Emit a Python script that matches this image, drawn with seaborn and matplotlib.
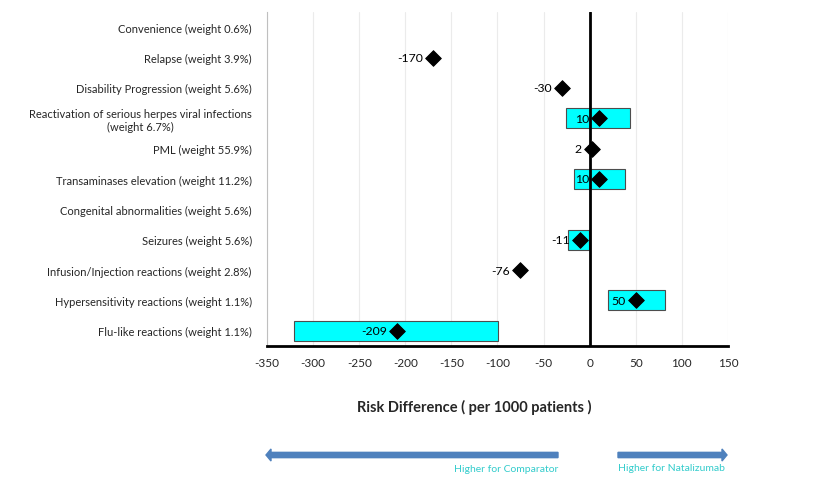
import numpy as np
import pandas as pd
import matplotlib
matplotlib.use("Agg")
import matplotlib.pyplot as plt
import seaborn as sns
from matplotlib.patches import FancyArrow

categories = [
    "Convenience (weight 0.6%)",
    "Relapse (weight 3.9%)",
    "Disability Progression (weight 5.6%)",
    "Reactivation of serious herpes viral infections\n(weight 6.7%)",
    "PML (weight 55.9%)",
    "Transaminases elevation (weight 11.2%)",
    "Congenital abnormalities (weight 5.6%)",
    "Seizures (weight 5.6%)",
    "Infusion/Injection reactions (weight 2.8%)",
    "Hypersensitivity reactions (weight 1.1%)",
    "Flu-like reactions (weight 1.1%)",
]
estimates = [np.nan, -170, -30, 10, 2, 10, np.nan, -11, -76, 50, -209]
ci_low = [np.nan, np.nan, np.nan, -26, np.nan, -17, np.nan, -23, np.nan, 20, -321]
ci_high = [np.nan, np.nan, np.nan, 44, np.nan, 38, np.nan, -1, np.nan, 82, -99]
x_ticks = [-350, -300, -250, -200, -150, -100, -50, 0, 50, 100, 150]

df = pd.DataFrame({"cat": categories, "est": estimates, "lo": ci_low, "hi": ci_high})
df["pos"] = np.arange(len(df))

sns.set_theme(style="white")
plt.rcParams["font.family"] = ["Lato", "DejaVu Sans"]

fig = plt.figure(figsize=(8.35, 4.81), dpi=100)
ax = fig.add_axes([0.3198, 0.2786, 0.552, 0.6944])

# grid
for t in x_ticks:
    ax.axvline(t, color="#ebebeb", lw=0.8, zorder=0)

# CI bars
ci = df.dropna(subset=["lo"])
ax.barh(ci["pos"], ci["hi"] - ci["lo"], left=ci["lo"], height=0.66,
        color="#00FFFF", edgecolor="#4d4d4d", linewidth=0.8, zorder=2)

ax.axvline(0, color="black", lw=2, zorder=3)

pts = df.dropna(subset=["est"])
sns.scatterplot(data=pts, x="est", y="pos", marker="D", s=64, color="black",
                edgecolor="black", ax=ax, zorder=4, legend=False)
for _, r in pts.iterrows():
    ax.annotate(f"{int(r['est'])}", (r["est"], r["pos"]), xytext=(-7, 0),
                textcoords="offset points", ha="right", va="center",
                fontsize=8.8, color="black", zorder=5)

ax.set_xlim(-350, 150)
ax.set_ylim(10.5, -0.5)
ax.set_xticks(x_ticks)
ax.set_xticklabels([str(t) for t in x_ticks], fontsize=8.5)
ax.set_yticks(df["pos"])
ax.set_yticklabels(categories, fontsize=8.0, multialignment="center")
ax.set_yticks(np.arange(-0.5, 10.6, 1), minor=True)
ax.tick_params(axis="y", which="major", length=0, pad=11)
ax.tick_params(axis="y", which="minor", length=4, color="#bfbfbf", direction="out")
ax.tick_params(axis="x", which="major", length=5, width=1.5, color="black",
               direction="out", pad=3)
ax.set_xlabel("")
ax.set_ylabel("")
for s in ["top", "right"]:
    ax.spines[s].set_visible(False)
ax.spines["left"].set_color("#bfbfbf")
ax.spines["left"].set_linewidth(0.8)
ax.spines["bottom"].set_color("black")
ax.spines["bottom"].set_linewidth(2)

fig.text(474 / 835, 1 - 407 / 481, "Risk Difference ( per 1000 patients )",
         ha="center", va="center", fontsize=10.5, fontweight="bold")

arrow_color = "#4F81BD"
y_arr = 1 - 456 / 481
fig.patches.append(FancyArrow(558 / 835, y_arr, (266 - 558) / 835, 0, width=0.011,
                              head_width=0.025, head_length=0.006,
                              length_includes_head=True, color=arrow_color,
                              transform=fig.transFigure, figure=fig))
fig.patches.append(FancyArrow(618 / 835, y_arr, (727 - 618) / 835, 0, width=0.011,
                              head_width=0.025, head_length=0.006,
                              length_includes_head=True, color=arrow_color,
                              transform=fig.transFigure, figure=fig))
txt_color = "#33CCCC"
fig.text(558 / 835, 1 - 470 / 481, "Higher for Comparator", ha="right", va="center",
         fontsize=7.5, color=txt_color)
fig.text(618 / 835, 1 - 469 / 481, "Higher for Natalizumab", ha="left", va="center",
         fontsize=7.5, color=txt_color)

fig.savefig("out.png", dpi=100)
